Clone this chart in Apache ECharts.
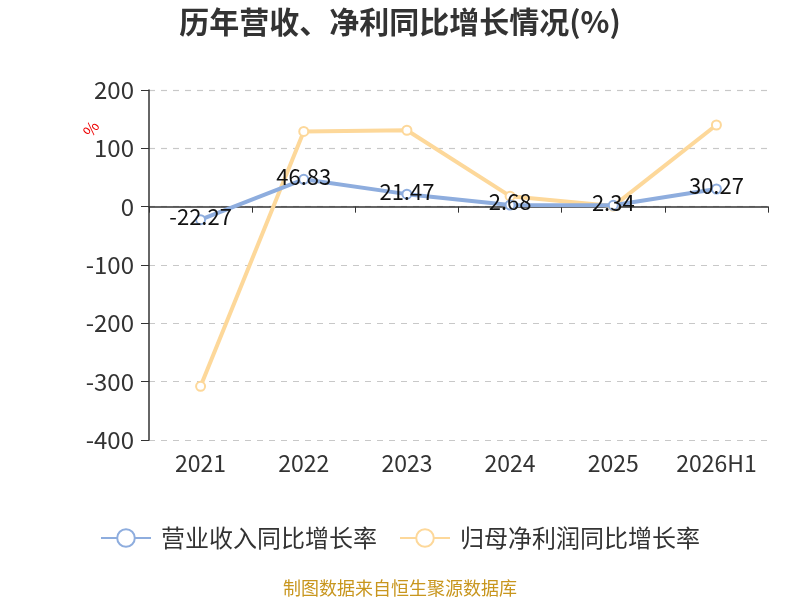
<!DOCTYPE html>
<html>
<head>
<meta charset="utf-8">
<script src="https://cdn.jsdelivr.net/npm/echarts@6/dist/echarts.min.js"></script>
<style>
  html, body { margin: 0; padding: 0; background: #fff; }
  #chart { width: 800px; height: 600px; }
</style>
</head>
<body>
<div id="chart"></div>
<script>
// 数据
const years = ['2021', '2022', '2023', '2024', '2025', '2026H1'];
const revenueGrowth = [-22.27, 46.83, 21.47, 2.68, 2.34, 30.27];
const profitGrowth = [-308, 129, 131, 18, 1, 140];
const seriesNames = ['营业收入同比增长率', '归母净利润同比增长率'];
const yTicks = { min: -400, max: 200, interval: 100 };

const FONT = '"Microsoft YaHei", "Noto Sans CJK SC", sans-serif';
const blue = '#8eadde';
const orange = '#fdd89a';

const chart = echarts.init(document.getElementById('chart'));

function legendItem(name, color) {
  return {
    name: name,
    itemStyle: { color: '#fff', borderColor: color, borderWidth: 2 },
    lineStyle: { color: color, width: 2 }
  };
}

chart.setOption({
  backgroundColor: '#fff',
  textStyle: { fontFamily: FONT },
  title: {
    text: '历年营收、净利同比增长情况(%)',
    left: 'center',
    top: 2,
    textStyle: { fontSize: 30, fontWeight: 'bold', color: '#333', fontFamily: FONT }
  },
  legend: {
    top: 521,
    left: 'center',
    itemWidth: 50,
    itemHeight: 22,
    itemGap: 22,
    textStyle: { fontSize: 24, color: '#333', fontFamily: FONT, padding: [0, 0, 0, 5] },
    data: [legendItem(seriesNames[0], blue), legendItem(seriesNames[1], orange)]
  },
  graphic: [
    {
      type: 'text',
      left: 'center',
      top: 579,
      style: { text: '制图数据来自恒生聚源数据库', fill: '#c8961e', fontSize: 18, fontFamily: FONT }
    },
    {
      type: 'text',
      x: 80,
      y: 130,
      rotation: Math.PI / 2 * 0.6,
      style: { text: '%', fill: '#e00', fontSize: 16, fontFamily: FONT }
    }
  ],
  grid: { left: 149, right: 32, top: 90, bottom: 160 },
  xAxis: {
    type: 'category',
    data: years,
    axisLine: { onZero: true, lineStyle: { color: '#333', width: 1.5 } },
    axisTick: { show: true, length: 6, lineStyle: { color: '#333' } },
    axisLabel: { fontSize: 23, color: '#333', margin: 12, interval: 0, fontFamily: FONT }
  },
  yAxis: {
    type: 'value',
    min: yTicks.min,
    max: yTicks.max,
    interval: yTicks.interval,
    axisLine: { show: true, lineStyle: { color: '#333', width: 1.5 } },
    axisTick: { show: true, length: 8, lineStyle: { color: '#333' } },
    axisLabel: { fontSize: 24, color: '#333', margin: 15, fontFamily: FONT },
    splitLine: { lineStyle: { type: [6, 6], color: '#c8c8c8', width: 1.2 } }
  },
  series: [
    {
      name: seriesNames[0],
      type: 'line',
      data: revenueGrowth,
      symbol: 'circle',
      symbolSize: 9,
      itemStyle: { color: '#fff', borderColor: blue, borderWidth: 2 },
      lineStyle: { color: blue, width: 4 },
      label: {
        show: true, position: 'inside', offset: [0, -3],
        fontSize: 22, color: '#111', fontFamily: FONT
      },
      z: 3
    },
    {
      name: seriesNames[1],
      type: 'line',
      data: profitGrowth,
      symbol: 'circle',
      symbolSize: 9,
      itemStyle: { color: '#fff', borderColor: orange, borderWidth: 2 },
      lineStyle: { color: orange, width: 4 },
      z: 2
    }
  ]
});
</script>
</body>
</html>
